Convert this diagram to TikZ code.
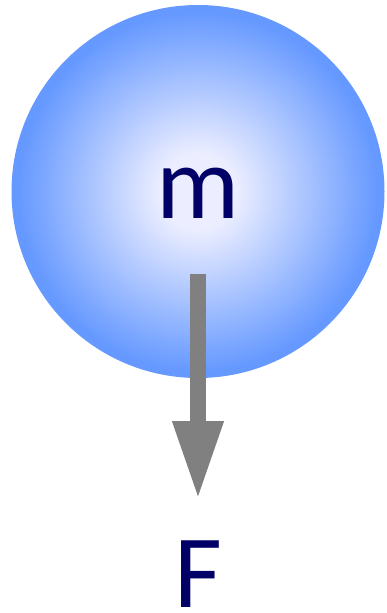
\documentclass[tikz,border=0pt]{standalone}
\usepackage{fontspec}
\setmainfont{Carlito}
\usetikzlibrary{arrows.meta}
\definecolor{ballin}{RGB}{236,238,255}
\definecolor{ballout}{RGB}{102,153,255}
\definecolor{navy}{RGB}{0,0,102}
\definecolor{arrowgray}{RGB}{128,128,128}
\pgfdeclareradialshading{ball}{\pgfpoint{0bp}{0bp}}{color(0bp)=(ballin); color(5bp)=(ballin); color(24bp)=(ballout); color(50bp)=(ballout)}
\tikzset{
  lbl/.style={text=navy, font=\fontsize{104}{104}\selectfont, inner sep=0pt},
  force/.style={draw=arrowgray, line width=16pt, -{Triangle[length=79pt,width=47pt]}}
}
\begin{document}
\begin{tikzpicture}[x=1pt,y=-1pt]
\useasboundingbox (0,0) rectangle (386,613);
\node[circle, minimum size=373pt, inner sep=0pt, shading=ball] (ball) at (198,191.5) {};
\node[lbl, anchor=base] (m) at (198,218) {m};
\node[lbl, anchor=base] (F) at (198,607) {F};
\coordinate (s) at (198,274);
\coordinate (t) at (198,500);
\draw[force] (s) -- (t);
\end{tikzpicture}
\end{document}
